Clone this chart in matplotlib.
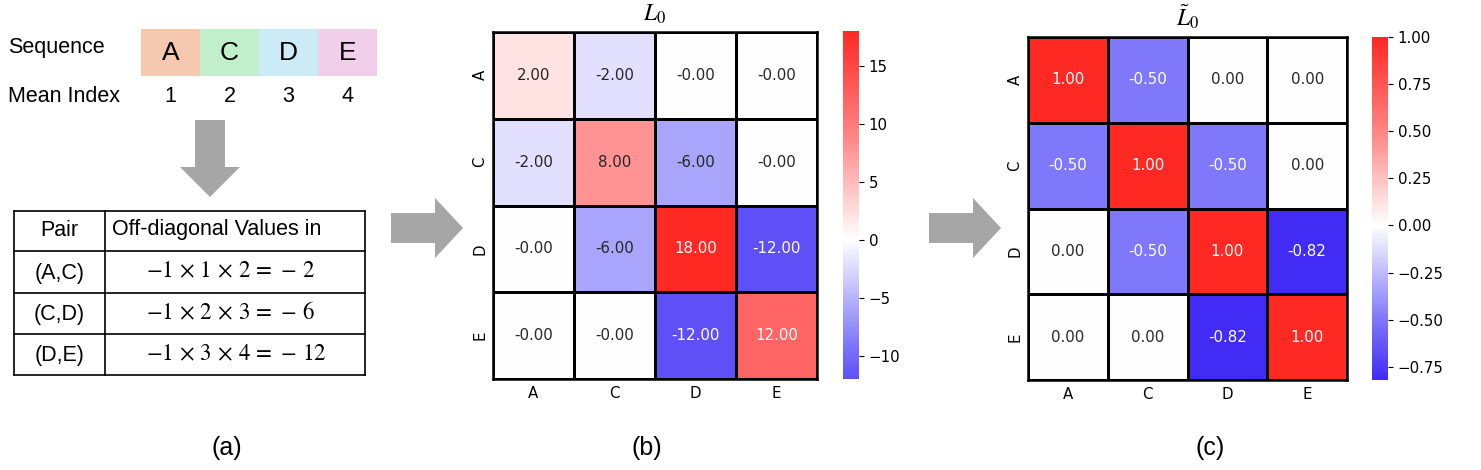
import numpy as np
import matplotlib
matplotlib.use("Agg")
import matplotlib.pyplot as plt
import seaborn as sns
from matplotlib.colors import LinearSegmentedColormap
from matplotlib.patches import Rectangle, FancyArrow

plt.rcParams['mathtext.fontset'] = 'stix'
plt.rcParams['font.family'] = ['DejaVu Sans']

# ---------------- data ----------------
labels = ["A", "C", "D", "E"]
mean_index = [1, 2, 3, 4]
seq_colors = ["#F6C8B0", "#C2EFCB", "#CBEBF7", "#F1CEEA"]
pairs = ["(A,C)", "(C,D)", "(D,E)"]
pair_exprs = [r"$-1\,\times\,1\,\times\,2\,=\,-\,2$",
              r"$-1\,\times\,2\,\times\,3\,=\,-\,6$",
              r"$-1\,\times\,3\,\times\,4\,=\,-\,12$"]

L0 = np.array([[2.0, -2.0, -0.0, -0.0],
               [-2.0, 8.0, -6.0, -0.0],
               [-0.0, -6.0, 18.0, -12.0],
               [-0.0, -0.0, -12.0, 12.0]])
L0_norm = np.array([[1.00, -0.50, 0.00, 0.00],
                    [-0.50, 1.00, -0.50, 0.00],
                    [0.00, -0.50, 1.00, -0.82],
                    [0.00, 0.00, -0.82, 1.00]])
cticks_b = [-10, -5, 0, 5, 10, 15]
cticks_c = [-0.75, -0.5, -0.25, 0, 0.25, 0.5, 0.75, 1.0]

W, H = 1481, 470
fig = plt.figure(figsize=(W / 100, H / 100), dpi=100)

cmap = LinearSegmentedColormap.from_list(
    "bwr_like",
    [(0.0, (0.12, 0.0, 0.95)),
     (0.25, (0.50, 0.47, 0.98)),
     (0.5, (1.0, 1.0, 1.0)),
     (0.75, (1.0, 0.52, 0.52)),
     (1.0, (1.0, 0.16, 0.14))])

# ---------------- overlay for panel (a) and arrows ----------------
ov = fig.add_axes([0, 0, 1, 1], zorder=-1)
ov.set_xlim(0, W)
ov.set_ylim(H, 0)
ov.axis("off")

sans = "Liberation Sans"
ov.text(8, 48, "Sequence", fontsize=15.5, family=sans, ha="left", va="center")
ov.text(8, 96, "Mean Index", fontsize=15.5, family=sans, ha="left", va="center")
box_w = 59
for i, (lab, idx, col) in enumerate(zip(labels, mean_index, seq_colors)):
    x0 = 141 + i * box_w
    ov.add_patch(Rectangle((x0, 29), box_w, 47, facecolor=col, edgecolor="none"))
    ov.text(x0 + box_w / 2, 53, lab, fontsize=19, family=sans, ha="center", va="center")
    ov.text(x0 + box_w / 2, 96, str(idx), fontsize=15.5, family=sans, ha="center", va="center")

grey = "#A6A6A6"
ov.add_patch(FancyArrow(210, 120, 0, 77, width=30, head_width=60, head_length=30,
                        length_includes_head=True, color=grey, lw=0))
ov.add_patch(FancyArrow(391, 228, 72, 0, width=30, head_width=60, head_length=28,
                        length_includes_head=True, color=grey, lw=0))
ov.add_patch(FancyArrow(929, 228, 72, 0, width=30, head_width=60, head_length=28,
                        length_includes_head=True, color=grey, lw=0))

# table
tx0, tx1, tcol = 14, 365, 105
row_y = [211, 251, 293, 334, 375]
lw = 1.2
for y in row_y:
    ov.plot([tx0, tx1], [y, y], color="black", lw=lw)
for x in (tx0, tcol, tx1):
    ov.plot([x, x], [row_y[0], row_y[-1]], color="black", lw=lw)
ov.text((tx0 + tcol) / 2, 230, "Pair", fontsize=15.5, family=sans, ha="center", va="center")
ov.text(112, 230, "Off-diagonal Values in", fontsize=15.5, family=sans, ha="left", va="center")
for k, (p, e) in enumerate(zip(pairs, pair_exprs)):
    yc = (row_y[k + 1] + row_y[k + 2]) / 2
    ov.text((tx0 + tcol) / 2, yc + 1, p, fontsize=15.5, family=sans, ha="center", va="center")
    ov.text(146, yc - 1, e, fontsize=16.5, ha="left", va="center")

for x, t in [(227, "(a)"), (647, "(b)"), (1210, "(c)")]:
    ov.text(x, 448, t, fontsize=18, family=sans, ha="center", va="center")


# ---------------- heatmaps ----------------
def fx(px):
    return px / W


def fy(py):
    return 1 - py / H


def heat(data, box, cbox, title, cticks):
    l, t, r, b = box
    ax = fig.add_axes([fx(l), fy(b), fx(r - l), (b - t) / H])
    cl, ct, cr, cb_ = cbox
    cax = fig.add_axes([fx(cl), fy(cb_), fx(cr - cl), (cb_ - ct) / H])
    sns.heatmap(data, ax=ax, cbar_ax=cax, cmap=cmap, center=0, annot=True, fmt=".2f",
                linewidths=1, linecolor="black", xticklabels=labels, yticklabels=labels,
                annot_kws={"size": 10.8})
    for s in ax.spines.values():
        s.set_visible(True)
        s.set_linewidth(1.8)
        s.set_color("black")
    ax.tick_params(axis="x", length=0, labelsize=10.8, pad=5)
    ax.tick_params(axis="y", length=0, labelsize=10.8, pad=4)
    plt.setp(ax.get_yticklabels(), rotation=90, va="center")
    ax.set_title(title, fontsize=17, pad=8)
    cax.set_yticks(cticks)
    cax.tick_params(labelsize=10.8)
    return ax, cax


heat(L0, (493, 32, 817, 379), (843, 31, 859, 379), r"$L_0$", cticks_b)
ax2, cax2 = heat(L0_norm, (1028, 37, 1347, 380), (1372, 37, 1388, 380), r"$\tilde{L}_0$",
                 cticks_c)
cax2.set_yticks(cticks_c)
cax2.set_yticklabels([f"{v:.2f}".replace("-", "\u2212") for v in cticks_c])

fig.savefig("out.png", dpi=100)
